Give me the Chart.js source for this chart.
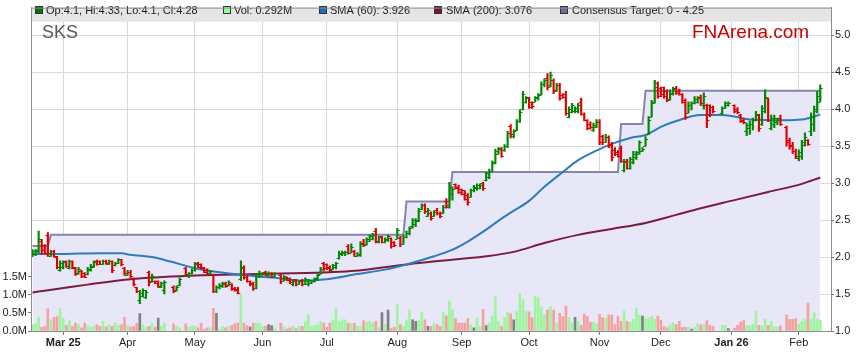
<!DOCTYPE html>
<html>
<head>
<meta charset="utf-8">
<script src="https://cdn.jsdelivr.net/npm/chart.js@4.4.1/dist/chart.umd.min.js"></script>
<style>
  html, body { margin: 0; padding: 0; background: #fff; }
  #wrap { width: 859px; height: 363px; }
</style>
</head>
<body>
<div id="wrap"><canvas id="chart" width="859" height="363"></canvas></div>
<script>
// SKS daily bars, one slot per weekday (holidays left empty), 17 Feb 2025 - 11 Feb 2026
const opens = [
  2.02,2.04,2.08,2.22,2.16,2.30,2.02,2.08,2.00,1.83,
  1.86,1.94,1.85,1.94,1.85,1.78,1.81,1.78,1.77,1.82,1.87,1.95,1.94,1.91,1.94,1.91,1.95,1.89,1.92,1.97,1.85,
  1.76,1.80,1.72,1.59,1.42,1.47,1.46,1.80,1.67,1.68,1.67,1.60,1.55,null,null,1.60,1.55,1.62,null,1.85,1.76,1.78,
  1.83,1.92,1.90,1.85,1.83,1.78,1.76,1.54,1.59,1.61,1.65,1.62,1.64,1.58,1.57,1.70,1.86,1.73,1.68,1.65,1.58,1.74,
  1.75,1.80,1.76,1.79,1.74,null,1.76,1.68,1.73,1.71,1.64,1.70,1.63,1.69,1.64,1.63,1.65,1.67,1.70,1.77,1.92,
  1.90,1.87,1.84,1.87,1.99,2.04,2.05,2.15,2.06,2.08,2.02,2.03,2.19,2.17,2.22,2.25,2.35,2.21,2.28,2.20,2.23,2.26,2.20,
  2.25,2.26,2.18,2.27,2.33,2.42,2.45,2.50,2.65,2.71,2.56,2.60,2.56,2.63,2.60,2.60,2.76,2.70,2.85,2.99,2.95,
  2.92,2.90,2.84,2.81,2.90,2.93,2.94,3.00,3.04,3.08,3.17,3.27,3.40,3.47,3.45,3.50,3.77,3.64,3.72,3.84,4.00,4.10,
  4.16,4.10,4.10,4.16,4.20,4.34,4.42,4.32,4.40,4.26,4.33,4.19,4.20,3.90,3.96,3.97,3.98,4.10,3.93,3.85,3.80,3.72,3.76,
  3.83,3.64,3.55,3.63,3.53,3.45,3.42,3.48,3.18,3.30,3.20,3.28,3.35,3.42,3.44,3.50,3.66,3.90,4.10,4.36,
  4.28,4.30,4.25,4.14,4.20,4.28,4.24,4.20,4.12,3.95,4.05,4.08,4.10,4.16,4.05,4.06,4.06,4.03,null,null,3.95,4.02,4.05,
  null,4.05,4.00,3.92,3.86,3.70,3.75,3.80,3.85,3.92,3.80,3.98,4.15,3.75,3.80,3.83,3.88,null,3.76,3.58,3.52,3.44,
  3.34,3.36,3.52,3.58,3.70,3.80,4.00,4.10
];
const highs = [
  2.10,2.10,2.35,2.24,2.17,2.33,2.09,2.09,2.01,1.95,
  1.95,1.95,1.96,1.95,1.86,1.86,1.82,1.79,1.86,1.90,1.95,1.96,1.95,1.96,1.96,1.96,1.95,1.93,1.98,1.97,1.86,
  1.82,1.82,1.72,1.59,1.55,1.57,1.55,1.81,1.77,1.68,1.68,1.66,1.68,null,null,1.61,1.61,1.72,null,1.86,1.79,1.84,
  1.93,1.93,1.91,1.86,1.84,1.82,1.77,1.61,1.64,1.66,1.66,1.68,1.64,1.59,1.59,1.95,1.88,1.75,1.68,1.66,1.77,1.81,
  1.79,1.81,1.80,1.79,1.79,null,1.77,1.75,1.73,1.72,1.70,1.70,1.68,1.70,1.72,1.70,1.68,1.72,1.77,1.86,1.93,
  1.91,1.88,1.90,1.93,2.08,2.08,2.08,2.17,2.18,2.09,2.06,2.21,2.24,2.26,2.30,2.32,2.39,2.28,2.28,2.26,2.30,2.26,2.21,
  2.39,2.28,2.30,2.35,2.41,2.52,2.52,2.66,2.72,2.72,2.66,2.61,2.63,2.66,2.61,2.70,2.79,3.01,2.95,2.99,2.97,
  2.92,2.90,2.86,2.92,2.97,2.99,2.99,3.01,3.15,3.19,3.30,3.46,3.48,3.48,3.52,3.70,3.79,3.72,3.86,3.99,4.24,4.17,
  4.16,4.10,4.17,4.21,4.37,4.41,4.48,4.50,4.41,4.35,4.35,4.21,4.24,4.03,4.08,4.03,4.08,4.15,3.95,3.86,3.83,3.81,3.86,
  3.86,3.65,3.66,3.64,3.55,3.48,3.44,3.50,3.32,3.32,3.35,3.43,3.43,3.57,3.48,3.63,3.90,4.12,4.39,4.37,
  4.30,4.30,4.26,4.26,4.30,4.31,4.27,4.21,4.14,4.10,4.10,4.17,4.17,4.19,4.22,4.07,4.06,4.04,null,null,4.03,4.10,4.10,
  null,4.06,4.02,3.93,3.87,3.81,3.84,3.88,3.97,3.93,4.05,4.26,4.15,3.92,3.92,3.88,3.92,null,3.77,3.61,3.55,3.46,
  3.45,3.58,3.68,3.59,3.95,4.04,4.24,4.33
];
const lows = [
  2.01,2.02,2.06,2.04,2.04,2.01,2.01,2.00,1.84,1.81,
  1.84,1.86,1.84,1.84,1.75,1.77,1.72,1.72,1.76,1.81,1.86,1.89,1.90,1.90,1.90,1.90,1.79,1.88,1.91,1.88,1.75,
  1.75,1.72,1.61,1.52,1.37,1.46,1.44,1.61,1.66,1.64,1.59,1.59,1.50,null,null,1.52,1.54,1.61,null,1.75,1.72,1.77,
  1.81,1.86,1.84,1.79,1.77,1.77,1.52,1.52,1.57,1.59,1.59,1.61,1.55,1.54,1.50,1.68,1.70,1.66,1.61,1.55,1.57,1.72,
  1.75,1.75,1.73,1.72,1.73,null,1.64,1.68,1.68,1.64,1.61,1.61,1.63,1.61,1.63,1.61,1.64,1.66,1.68,1.77,1.81,
  1.83,1.81,1.83,1.84,1.97,2.02,2.02,2.04,2.06,2.01,2.01,2.01,2.14,2.16,2.21,2.23,2.19,2.19,2.19,2.19,2.21,2.12,2.14,
  2.25,2.14,2.17,2.26,2.30,2.39,2.41,2.48,2.64,2.59,2.55,2.50,2.55,2.57,2.53,2.59,2.66,2.66,2.77,2.92,2.86,
  2.84,2.77,2.70,2.81,2.88,2.90,2.92,2.90,3.03,3.06,3.15,3.26,3.39,3.35,3.43,3.48,3.61,3.61,3.71,3.82,3.99,4.08,
  4.01,4.01,4.10,4.12,4.19,4.30,4.26,4.30,4.21,4.24,4.12,4.15,3.92,3.88,3.95,3.95,3.95,3.92,3.84,3.72,3.73,3.70,3.75,
  3.52,3.52,3.55,3.48,3.30,3.37,3.35,3.28,3.15,3.19,3.19,3.26,3.32,3.39,3.43,3.50,3.66,3.90,4.08,4.15,
  4.17,4.15,4.10,4.12,4.19,4.20,4.19,4.08,3.86,3.95,3.99,4.07,4.08,4.05,4.00,3.75,3.90,3.95,null,null,3.93,4.01,4.04,
  null,3.95,3.94,3.82,3.80,3.64,3.66,3.72,3.84,3.70,3.78,3.95,3.83,3.72,3.75,3.79,3.78,null,3.50,3.46,3.40,3.33,
  3.30,3.32,3.50,3.51,3.64,3.70,3.95,4.10
];
const closes = [
  2.08,2.09,2.25,2.10,2.06,2.05,2.08,2.01,1.86,1.92,
  1.93,1.88,1.94,1.86,1.77,1.84,1.75,1.73,1.84,1.88,1.93,1.91,1.91,1.94,1.92,1.95,1.82,1.92,1.97,1.90,1.78,
  1.80,1.75,1.63,1.54,1.52,1.55,1.53,1.66,1.74,1.65,1.61,1.65,1.66,null,null,1.54,1.60,1.70,null,1.77,1.78,1.83,
  1.91,1.87,1.86,1.80,1.78,1.81,1.54,1.60,1.62,1.64,1.61,1.66,1.57,1.55,1.51,1.85,1.73,1.68,1.63,1.58,1.74,1.79,
  1.78,1.76,1.79,1.75,1.78,null,1.67,1.74,1.69,1.66,1.68,1.63,1.67,1.64,1.70,1.69,1.67,1.71,1.76,1.84,1.85,
  1.85,1.83,1.89,1.92,2.06,2.07,2.07,2.06,2.14,2.02,2.04,2.18,2.16,2.24,2.28,2.30,2.22,2.27,2.21,2.25,2.29,2.15,2.16,
  2.36,2.17,2.27,2.33,2.39,2.50,2.49,2.62,2.70,2.62,2.63,2.53,2.61,2.59,2.55,2.68,2.68,2.95,2.92,2.94,2.88,
  2.85,2.79,2.74,2.90,2.95,2.97,2.98,2.93,3.13,3.17,3.28,3.44,3.46,3.37,3.50,3.68,3.66,3.70,3.84,3.96,4.20,4.15,
  4.03,4.04,4.15,4.19,4.34,4.39,4.30,4.46,4.25,4.33,4.15,4.16,3.95,4.00,4.05,4.02,4.06,3.94,3.86,3.74,3.76,3.78,3.83,
  3.56,3.55,3.62,3.51,3.35,3.39,3.37,3.30,3.28,3.21,3.32,3.40,3.40,3.55,3.46,3.60,3.85,4.08,4.30,4.18,
  4.20,4.18,4.13,4.22,4.27,4.22,4.20,4.10,3.90,4.06,4.08,4.14,4.15,4.08,4.18,3.85,3.93,3.98,null,null,4.01,4.08,4.08,
  null,3.97,3.96,3.84,3.82,3.78,3.80,3.86,3.94,3.74,4.02,4.16,3.85,3.88,3.88,3.86,3.80,null,3.55,3.50,3.43,3.36,
  3.42,3.55,3.62,3.53,3.90,3.98,4.18,4.28
];
// volume in millions
const volumes = [
  0.18,0.20,0.38,0.11,0.13,0.61,0.31,0.38,0.40,0.61,
  0.36,0.15,0.29,0.13,0.22,0.18,0.09,0.22,0.15,0.11,0.13,0.18,0.13,0.27,0.11,0.18,0.13,0.22,0.15,0.18,0.38,
  0.15,0.11,0.13,0.22,0.48,0.18,0.11,0.13,0.22,0.11,0.36,0.13,0.22,null,null,0.20,0.13,0.09,null,0.20,0.11,0.15,
  0.13,0.09,0.22,0.05,0.09,0.09,0.63,0.49,0.05,0.13,0.09,0.13,0.15,0.20,0.22,0.99,0.22,0.15,0.11,0.22,0.22,0.22,
  0.13,0.13,0.18,0.15,0.09,null,0.22,0.13,0.05,0.09,0.13,0.07,0.13,0.13,0.27,0.45,0.13,0.15,0.18,0.27,0.22,
  0.11,0.22,0.31,0.63,0.27,0.31,0.31,0.22,0.20,0.22,0.13,0.13,0.29,0.24,0.27,0.22,0.27,0.09,0.51,0.18,0.58,0.07,0.11,
  0.72,0.18,0.13,0.31,0.58,0.31,0.27,0.29,0.52,0.31,0.13,0.13,0.22,0.18,0.13,0.51,0.42,0.82,0.59,0.34,0.22,
  0.22,0.22,0.34,0.18,0.09,0.36,0.13,0.60,0.15,0.22,0.42,0.96,0.27,0.13,0.38,0.52,0.48,0.31,0.54,1.04,0.87,0.54,
  0.53,0.37,0.96,0.92,0.67,0.45,0.58,0.67,0.58,0.22,0.49,0.40,0.69,0.38,0.22,0.38,0.27,0.16,0.47,0.40,0.24,0.24,0.20,
  0.46,0.37,0.35,0.45,0.45,0.18,0.41,0.27,0.55,0.27,0.23,0.32,0.64,0.45,0.41,0.34,0.36,0.41,0.32,0.41,
  0.30,0.12,0.09,0.18,0.23,0.18,0.27,0.10,0.10,0.10,0.05,0.10,0.20,0.17,0.18,0.29,0.16,0.12,null,null,0.16,0.16,0.07,
  null,0.08,0.16,0.25,0.29,0.14,0.14,0.18,0.56,0.16,0.14,0.32,0.16,0.26,0.11,0.11,0.14,null,0.45,0.32,0.32,0.34,
  0.19,0.27,0.32,0.78,0.32,0.50,0.32,0.29
];
// days whose volume bar is grey (unchanged)
const greyVolIdx = [35, 41, 60, 71, 77, 78, 114, 116, 124, 125, 129, 144, 148, 157, 177, 199, 215, 227];

// consensus target: [first bar index, value]
const targetSteps = [[0, 2.15], [6, 2.3], [122, 2.75], [137, 3.15], [192, 3.8], [200, 4.25]];

// moving averages at these bar indexes
const sma60Idx = [0,6,13,22,29,32,39,45,52,58,68,79,88,96,106,115,122,131,137,142,148,153,156,162,167,173,178,184,189,195,200,205,210,218,224,229,234,245,251,257];
const sma60Val = [2.04,2.04,2.045,2.05,2.05,2.03,2.00,1.94,1.86,1.81,1.76,1.72,1.68,1.70,1.77,1.83,1.90,2.01,2.10,2.21,2.37,2.52,2.60,2.76,2.95,3.15,3.31,3.44,3.53,3.61,3.65,3.76,3.84,3.92,3.92,3.90,3.86,3.85,3.86,3.926];
const sma200Idx = [0,32,53,73,95,104,126,148,157,167,178,189,200,210,218,229,240,251,257];
const sma200Val = [1.52,1.70,1.75,1.77,1.79,1.81,1.92,2.01,2.07,2.19,2.30,2.38,2.46,2.57,2.66,2.77,2.88,2.99,3.076];

const monthTickIdx = [10, 31, 53, 75, 96, 119, 140, 162, 185, 205, 228, 250];
const monthTickLabels = ["Mar 25", "Apr", "May", "Jun", "Jul", "Aug", "Sep", "Oct", "Nov", "Dec", "Jan 26", "Feb"];
const volTicks = [0, 0.5, 1, 1.5];

const FONT = '"Liberation Sans", Arial, sans-serif';
const N_SLOTS = 261; // a few empty slots after the last bar
const xLabels = Array.from({ length: N_SLOTS }, (_, i) => i);

const hiLo = highs.map((h, i) => (h == null ? null : [lows[i], h]));
const isUp = closes.map((c, i) => c != null && c >= opens[i]);
const barColors = isUp.map((u) => (u ? "#008800" : "#e00000"));
const volColors = volumes.map((v, i) =>
  greyVolIdx.includes(i) ? "#808080" : isUp[i] ? "#9ef59e" : "#f7a0a0"
);

const target = [];
let step = 0;
for (let i = 0; i < closes.length; i++) {
  while (step + 1 < targetSteps.length && i >= targetSteps[step + 1][0]) step++;
  target.push(targetSteps[step][1]);
}

function sparse(idx, vals) {
  const out = new Array(closes.length).fill(null);
  idx.forEach((k, j) => { out[k] = vals[j]; });
  return out;
}

// open tick on the left, close tick on the right of each hi-lo bar
const ohlcTicks = {
  id: "ohlcTicks",
  afterDatasetsDraw(chart) {
    const meta = chart.getDatasetMeta(0);
    const y = chart.scales.y;
    const ctx = chart.ctx;
    const area = chart.chartArea;
    ctx.save();
    ctx.beginPath();
    ctx.rect(area.left, area.top, area.right - area.left, area.bottom - area.top);
    ctx.clip();
    ctx.lineWidth = 1;
    meta.data.forEach((bar, i) => {
      if (opens[i] == null) return;
      const x = bar.x;
      const yo = Math.round(y.getPixelForValue(opens[i])) + 0.5;
      const yc = Math.round(y.getPixelForValue(closes[i])) + 0.5;
      ctx.strokeStyle = barColors[i];
      ctx.beginPath();
      ctx.moveTo(x - 2.5, yo);
      ctx.lineTo(x, yo);
      ctx.moveTo(x, yc);
      ctx.lineTo(x + 2.5, yc);
      ctx.stroke();
    });
    ctx.restore();
  },
};

// legend band, frame and the two captions
const decor = {
  id: "decor",
  beforeDraw(chart) {
    const ctx = chart.ctx;
    ctx.save();
    ctx.fillStyle = "#ffffff";
    ctx.fillRect(0, 0, chart.width, chart.height);
    ctx.restore();
  },
  afterDraw(chart) {
    const ctx = chart.ctx;
    const a = chart.chartArea;
    ctx.save();
    ctx.fillStyle = "#e5e5e5";
    ctx.fillRect(a.left, a.top, a.right - a.left, 14);

    const items = [
      { sq: 35, tx: 46, color: "#007700", text: "Op:4.1, Hi:4.33, Lo:4.1, Cl:4.28" },
      { sq: 223, tx: 234, color: "#99ff99", text: "Vol: 0.292M" },
      { sq: 319, tx: 330, color: "#1f6fb2", text: "SMA (60): 3.926" },
      { sq: 434, tx: 446, color: "#7a1232", text: "SMA (200): 3.076" },
      { sq: 560, tx: 572, color: "#6c6c9c", text: "Consensus Target: 0 - 4.25" },
    ];
    ctx.font = "11px " + FONT;
    ctx.textBaseline = "middle";
    items.forEach((it) => {
      ctx.fillStyle = it.color;
      ctx.fillRect(it.sq, 6.5, 7, 7);
      ctx.strokeStyle = "#333";
      ctx.lineWidth = 1;
      ctx.strokeRect(it.sq + 0.5, 6.5, 7, 7);
      ctx.fillStyle = "#1a1a1a";
      ctx.fillText(it.text, it.tx, 10.5);
    });

    ctx.strokeStyle = "#8c8c8c";
    ctx.lineWidth = 1;
    ctx.strokeRect(a.left + 0.5, a.top + 0.5, a.right - a.left, a.bottom - a.top);

    ctx.textBaseline = "alphabetic";
    ctx.font = "18px " + FONT;
    ctx.fillStyle = "#585858";
    ctx.fillText("SKS", 42, 38);
    ctx.font = "19px " + FONT;
    ctx.fillStyle = "#cc0000";
    ctx.fillText("FNArena.com", 692, 38);
    ctx.restore();
  },
};

new Chart(document.getElementById("chart"), {
  type: "bar",
  data: {
    labels: xLabels,
    datasets: [
      {
        type: "bar",
        label: "OHLC",
        data: hiLo,
        yAxisID: "y",
        backgroundColor: barColors,
        barThickness: 1.5,
        grouped: false,
        order: 1,
      },
      {
        type: "line",
        label: "SMA (60)",
        data: sparse(sma60Idx, sma60Val),
        yAxisID: "y",
        borderColor: "#2f7bbd",
        borderWidth: 2,
        pointRadius: 0,
        spanGaps: true,
        cubicInterpolationMode: "monotone",
        order: 2,
      },
      {
        type: "line",
        label: "SMA (200)",
        data: sparse(sma200Idx, sma200Val),
        yAxisID: "y",
        borderColor: "#7d1b3f",
        borderWidth: 2,
        pointRadius: 0,
        spanGaps: true,
        cubicInterpolationMode: "monotone",
        order: 3,
      },
      {
        type: "bar",
        label: "Vol",
        data: volumes,
        yAxisID: "yv",
        backgroundColor: volColors,
        barThickness: 2,
        grouped: false,
        order: 4,
      },
      {
        type: "line",
        label: "Consensus Target",
        data: target,
        yAxisID: "y",
        borderColor: "#8484ac",
        borderWidth: 2,
        pointRadius: 0,
        fill: "start",
        backgroundColor: "#e7e7f7",
        order: 5,
      },
    ],
  },
  options: {
    responsive: false,
    animation: false,
    devicePixelRatio: 1,
    layout: { padding: { top: 3, left: 0, right: 0, bottom: 0 } },
    plugins: { legend: { display: false }, tooltip: { enabled: false } },
    scales: {
      x: {
        type: "category",
        offset: true,
        grid: { offset: false, color: "#d9d9d9", tickColor: "#777", tickLength: 4 },
        border: { color: "#8c8c8c" },
        afterBuildTicks: (axis) => {
          axis.ticks = monthTickIdx.map((v) => ({ value: v }));
        },
        afterFit: (axis) => { axis.height = 32; },
        ticks: {
          autoSkip: false,
          maxRotation: 0,
          padding: 1,
          color: "#222",
          callback: (v) => monthTickLabels[monthTickIdx.indexOf(v)],
          font: (c) => ({
            family: FONT,
            size: 11,
            weight: c.index === 0 || c.index === 10 ? "bold" : "normal",
          }),
        },
      },
      y: {
        position: "right",
        min: 1,
        max: 5.3733,
        grid: { color: "#d9d9d9", tickColor: "#777", tickLength: 3 },
        border: { color: "#8c8c8c" },
        afterFit: (s) => { s.width = 28; },
        ticks: {
          stepSize: 0.5,
          includeBounds: false,
          padding: 1,
          color: "#222",
          font: { family: FONT, size: 11 },
          callback: (v) => v.toFixed(1),
        },
      },
      yv: {
        position: "left",
        min: 0,
        max: 8.94,
        grid: { drawOnChartArea: false, tickColor: "#777", tickLength: 3 },
        border: { color: "#8c8c8c" },
        afterBuildTicks: (axis) => {
          axis.ticks = volTicks.map((v) => ({ value: v }));
        },
        afterFit: (s) => { s.width = 31; },
        ticks: {
          padding: 1,
          color: "#222",
          font: { family: FONT, size: 11 },
          callback: (v) => v.toFixed(1) + "M",
        },
      },
    },
  },
  plugins: [ohlcTicks, decor],
});
</script>
</body>
</html>
